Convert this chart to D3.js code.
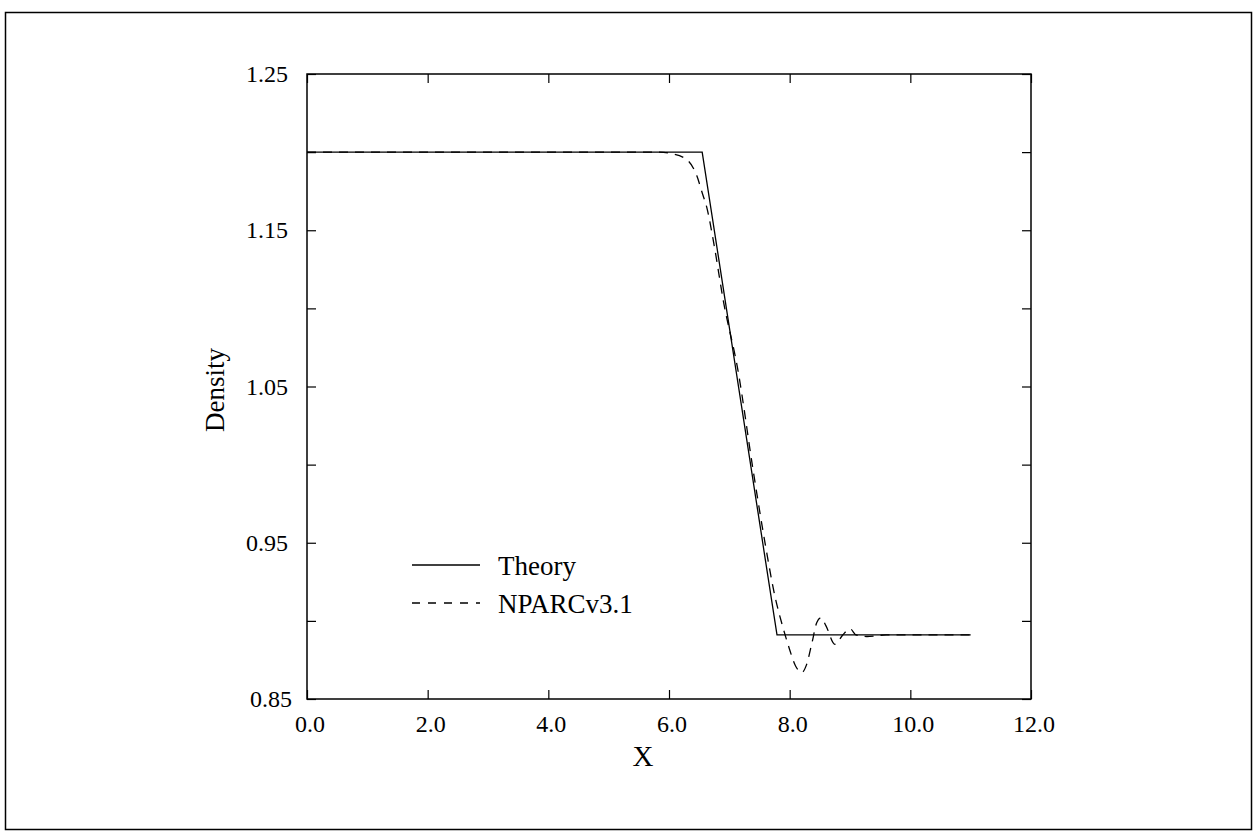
<!DOCTYPE html>
<html>
<head>
<meta charset="utf-8">
<script src="https://cdn.jsdelivr.net/npm/d3@7"></script>
<style>
  body { margin: 0; background: #fff; }
  text { font-family: "Liberation Serif", "Times New Roman", serif; fill: #000; }
</style>
</head>
<body>
<script>
// data
var theoryX = [0.0, 6.55, 7.79, 11.0];
var theoryY = [1.2, 1.2, 0.891, 0.891];

var nparcX = [0.0, 5.8, 6.05, 6.3, 6.46, 6.55, 6.63, 6.75, 6.9, 7.14, 7.4, 7.6, 7.76, 7.88, 7.98, 8.1, 8.2, 8.28, 8.37, 8.45, 8.52, 8.6, 8.75, 8.88, 9.0, 9.1, 9.28, 9.6, 11.0];
var nparcY = [1.2, 1.2, 1.199, 1.195, 1.185, 1.174, 1.164, 1.14, 1.105, 1.061, 0.995, 0.948, 0.915, 0.897, 0.884, 0.871, 0.867, 0.872, 0.886, 0.899, 0.902, 0.897, 0.885, 0.891, 0.895, 0.891, 0.890, 0.891, 0.891];

var xTicks = [0, 2, 4, 6, 8, 10, 12];
var yTicks = [0.85, 0.9, 0.95, 1.0, 1.05, 1.1, 1.15, 1.2, 1.25];
var yLabels = [0.85, 0.95, 1.05, 1.15, 1.25];

var legendNames = ["Theory", "NPARCv3.1"];

drawChart();

function drawChart(){
    //page dimensions
    var width = 1257,
        height = 833;

    var svg = d3.select("body")
        .append("svg")
        .attr("width", width)
        .attr("height", height);

    //outer frame
    svg.append("rect")
        .attr("x", 5.5)
        .attr("y", 12.5)
        .attr("width", 1246)
        .attr("height", 817)
        .attr("fill", "none")
        .attr("stroke", "#000")
        .attr("stroke-width", 1.5);

    //plot box
    var pLeft = 307, pRight = 1031, pTop = 74, pBottom = 699;

    var x = d3.scaleLinear().domain([0, 12]).range([pLeft, pRight]);
    var y = d3.scaleLinear().domain([0.85, 1.25]).range([pBottom, pTop]);

    //axes with inward ticks, labels drawn separately
    var axisStyle = function(g){
        g.select(".domain").remove();
        g.selectAll("line").attr("stroke", "#000").attr("stroke-width", 1.2);
        g.selectAll("text").remove();
    };

    svg.append("g")
        .attr("transform", "translate(0," + pBottom + ")")
        .call(d3.axisBottom(x).tickValues(xTicks).tickSize(-9))
        .call(axisStyle);
    svg.append("g")
        .attr("transform", "translate(0," + pTop + ")")
        .call(d3.axisTop(x).tickValues(xTicks).tickSize(-9))
        .call(axisStyle);
    svg.append("g")
        .attr("transform", "translate(" + pLeft + ",0)")
        .call(d3.axisLeft(y).tickValues(yTicks).tickSize(-9))
        .call(axisStyle);
    svg.append("g")
        .attr("transform", "translate(" + pRight + ",0)")
        .call(d3.axisRight(y).tickValues(yTicks).tickSize(-9))
        .call(axisStyle);

    svg.append("rect")
        .attr("x", pLeft)
        .attr("y", pTop)
        .attr("width", pRight - pLeft)
        .attr("height", pBottom - pTop)
        .attr("fill", "none")
        .attr("stroke", "#000")
        .attr("stroke-width", 1.5);

    //tick labels
    svg.selectAll(".xlab")
        .data(xTicks)
        .enter()
        .append("text")
        .attr("class", "xlab")
        .attr("x", function(d){ return x(d) + 3; })
        .attr("y", pBottom + 33)
        .attr("text-anchor", "middle")
        .style("font-size", "24px")
        .text(function(d){ return d.toFixed(1); });

    svg.selectAll(".ylab")
        .data(yLabels)
        .enter()
        .append("text")
        .attr("class", "ylab")
        .attr("x", function(d){ return d === 0.85 ? 292 : 288; })
        .attr("y", function(d){ return y(d) + 8; })
        .attr("text-anchor", "end")
        .style("font-size", "24px")
        .text(function(d){ return d.toFixed(2); });

    //axis titles
    svg.append("text")
        .attr("x", 643)
        .attr("y", 766)
        .attr("text-anchor", "middle")
        .style("font-size", "29px")
        .text("X");

    svg.append("text")
        .attr("transform", "translate(224,390) rotate(-90)")
        .attr("text-anchor", "middle")
        .style("font-size", "27px")
        .text("Density");

    //lines
    var line = d3.line()
        .x(function(d){ return x(d[0]); })
        .y(function(d){ return y(d[1]); });

    svg.append("path")
        .datum(d3.zip(theoryX, theoryY))
        .attr("d", line)
        .attr("fill", "none")
        .attr("stroke", "#000")
        .attr("stroke-width", 1.3);

    svg.append("path")
        .datum(d3.zip(nparcX, nparcY))
        .attr("d", line.curve(d3.curveMonotoneX))
        .attr("fill", "none")
        .attr("stroke", "#000")
        .attr("stroke-width", 1.3)
        .attr("stroke-dasharray", "9,7");

    //legend
    var legend = svg.selectAll(".legend")
        .data(legendNames)
        .enter()
        .append("g")
        .attr("class", "legend")
        .attr("transform", function(d, i){ return "translate(412," + (565 + i * 38) + ")"; });

    legend.append("line")
        .attr("x1", 0)
        .attr("x2", 68)
        .attr("stroke", "#000")
        .attr("stroke-width", 1.3)
        .attr("stroke-dasharray", function(d, i){ return i ? "8,8" : null; });

    legend.append("text")
        .attr("x", 86)
        .attr("y", 10)
        .style("font-size", "27px")
        .text(function(d){ return d; });
}
</script>
</body>
</html>
